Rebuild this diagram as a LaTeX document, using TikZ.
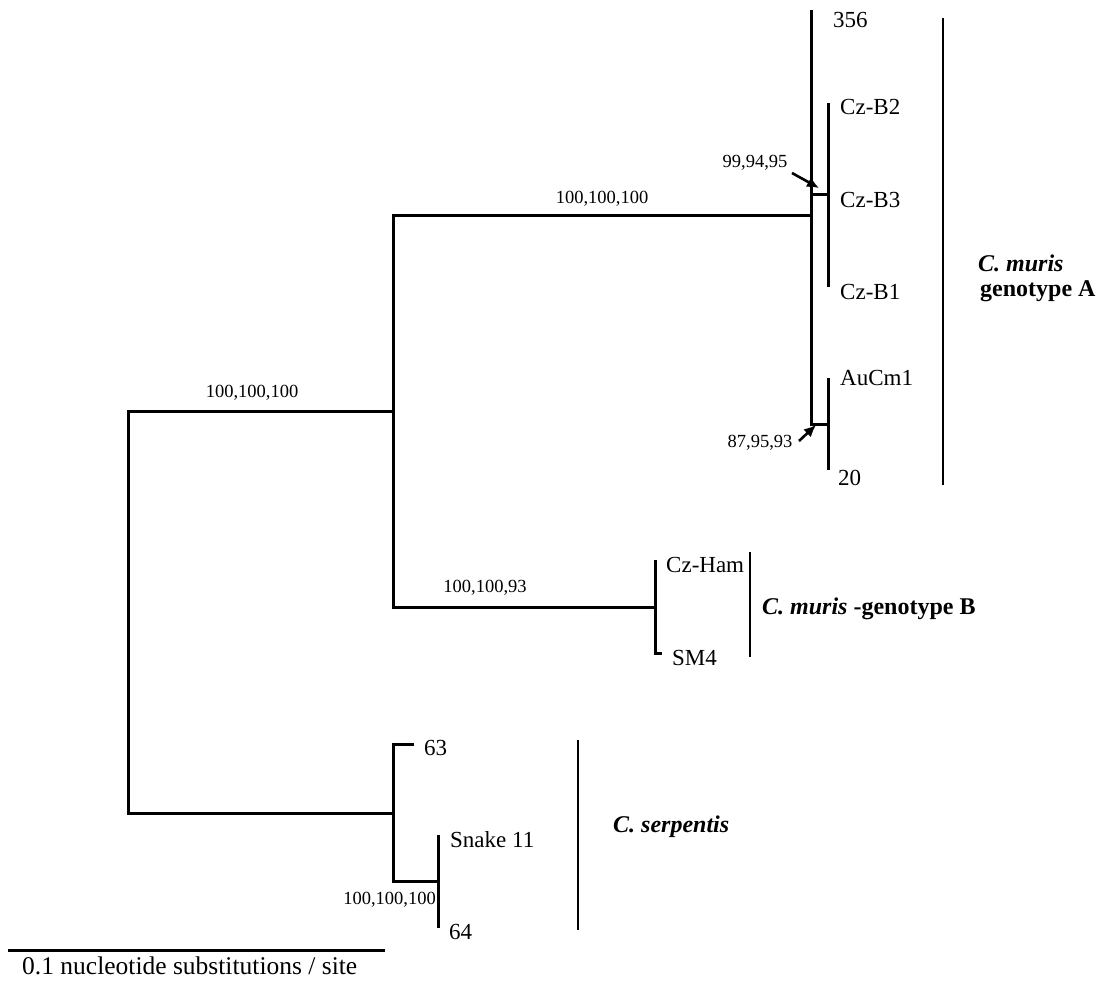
\documentclass[tikz,border=0pt]{standalone}
\usepackage{fontspec}
\setmainfont{Liberation Serif}
\usetikzlibrary{arrows.meta}
\begin{document}
\begin{tikzpicture}[x=1pt,y=-1pt,
  branch/.style={line width=3pt, line join=miter},
  bracket/.style={line width=2.6pt},
  tip/.style={anchor=west, inner sep=0pt, font=\fontsize{23}{25}\selectfont},
  boot/.style={inner sep=0pt, font=\fontsize{18.5}{20}\selectfont},
  grp/.style={anchor=west, inner sep=0pt, font=\bfseries\fontsize{24}{26}\selectfont},
  ptr/.style={line width=2.6pt, -{Latex[length=12pt,width=11pt]}}]
\useasboundingbox (0,0) rectangle (1097,981);
% internal nodes
\coordinate (R) at (128,612);
\coordinate (N1) at (393,411);
\coordinate (N2) at (393,813);
\coordinate (NA) at (811,216);
\coordinate (NB) at (655,607);
\coordinate (NCz) at (828,195);
\coordinate (NAu) at (828,424);
\coordinate (NS) at (438,881);
% tips
\coordinate (t356) at (811,10);
\coordinate (tB2) at (828,103);
\coordinate (tB1) at (828,287);
\coordinate (tAu) at (828,378);
\coordinate (t20) at (828,470);
\coordinate (tHam) at (655,560);
\coordinate (tSM4) at (662,653);
\coordinate (t63) at (414,744);
\coordinate (tSn) at (438,835);
\coordinate (t64) at (438,928);
% branches
\draw[branch] (R) |- (N1);
\draw[branch] (R) |- (N2);
\draw[branch] (N1) |- (NA);
\draw[branch] (N1) |- (NB);
\draw[branch] (NA) -- (t356);
\draw[branch] (NA) |- (NCz);
\draw[branch] (NA) |- (NAu);
\draw[branch] (NCz) -- (tB2);
\draw[branch] (NCz) -- (tB1);
\draw[branch] (NAu) -- (tAu);
\draw[branch] (NAu) -- (t20);
\draw[branch] (NB) -- (tHam);
\draw[branch] (NB) |- (tSM4);
\draw[branch] (N2) |- (t63);
\draw[branch] (N2) |- (NS);
\draw[branch] (NS) -- (tSn);
\draw[branch] (NS) -- (t64);
% tip labels
\node[tip] (l356) at (833,20) {356};
\node[tip] (lB2) at (840,107) {Cz-B2};
\node[tip] (lB3) at (840,200) {Cz-B3};
\node[tip] (lB1) at (840,292) {Cz-B1};
\node[tip] (lAu) at (840,378) {AuCm1};
\node[tip] (l20) at (838,478) {20};
\node[tip] (lHam) at (666,565) {Cz-Ham};
\node[tip] (lSM4) at (672,658) {SM4};
\node[tip] (l63) at (424,748) {63};
\node[tip] (lSn) at (450,840) {Snake 11};
\node[tip] (l64) at (449,932) {64};
% bootstrap labels
\node[boot] (b1) at (252,393) {100,100,100};
\node[boot] (b2) at (602,199) {100,100,100};
\node[boot] (b3) at (485,588) {100,100,93};
\node[boot, anchor=east] (b4) at (436,900) {100,100,100};
\node[boot] (b5) at (755,163) {99,94,95};
\node[boot] (b6) at (760,443) {87,95,93};
\coordinate (a1s) at (792,173);
\coordinate (a1e) at (819,188);
\coordinate (a2s) at (799,441);
\coordinate (a2e) at (816,425);
\draw[ptr] (a1s) -- (a1e);
\draw[ptr] (a2s) -- (a2e);
% brackets
\coordinate (gAt) at (943,18);
\coordinate (gAb) at (943,485);
\draw[bracket] (gAt) -- (gAb);
\coordinate (gBt) at (750,552);
\coordinate (gBb) at (750,657);
\draw[bracket] (gBt) -- (gBb);
\coordinate (gCt) at (578,740);
\coordinate (gCb) at (578,930);
\draw[bracket] (gCt) -- (gCb);
\node[grp] (gA1) at (978,263) {\itshape C. muris};
\node[grp] (gA2) at (980,291) {genotype A};
\node[grp] (gB) at (762,609) {{\itshape C. muris} -genotype B};
\node[grp] (gC) at (613,827) {\itshape C. serpentis};
% scale bar
\coordinate (s1) at (8,950);
\coordinate (s2) at (385,950);
\draw[branch] (s1) -- (s2);
\node[tip, font=\fontsize{25.5}{27}\selectfont] (sc) at (22,966) {0.1 nucleotide substitutions / site};
\end{tikzpicture}
\end{document}
